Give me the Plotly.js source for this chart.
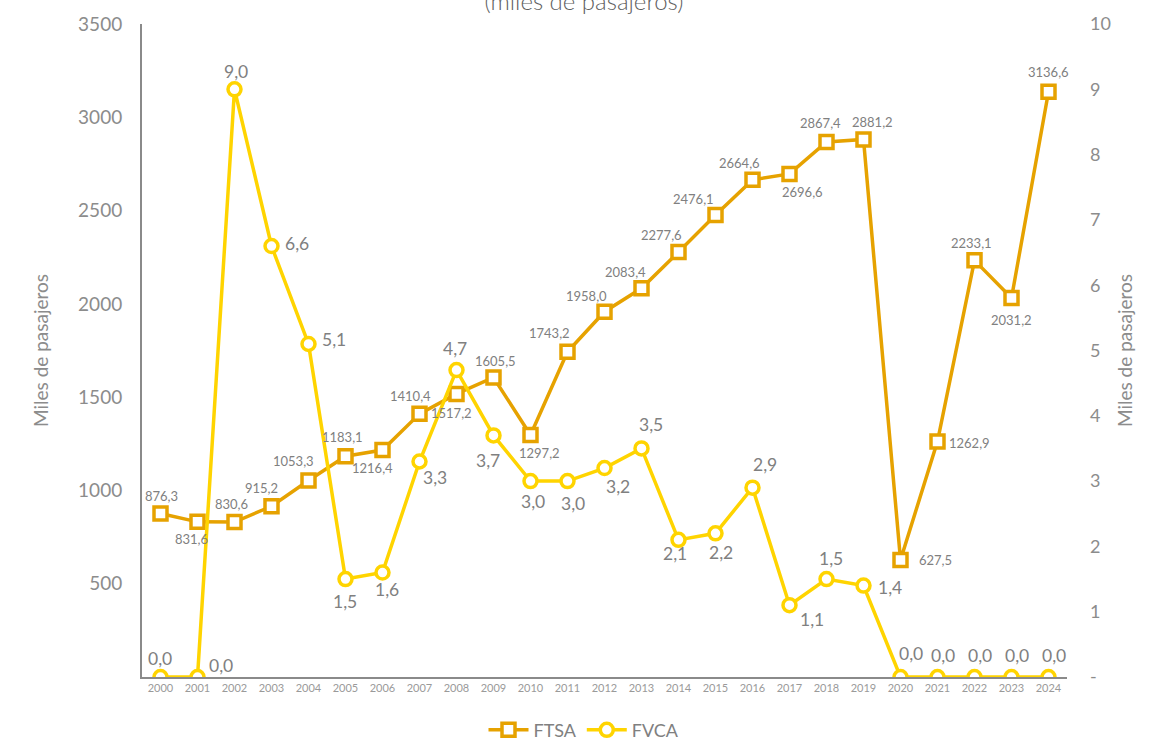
<!DOCTYPE html>
<html>
<head>
<meta charset="utf-8">
<script src="https://cdn.plot.ly/plotly-3.0.1.min.js"></script>
<style>html,body{margin:0;padding:0;background:#fff;}#chart{width:1168px;height:742px;}</style>
</head>
<body>
<div id="chart"></div>
<script>
const years = [2000,2001,2002,2003,2004,2005,2006,2007,2008,2009,2010,2011,2012,2013,2014,2015,2016,2017,2018,2019,2020,2021,2022,2023,2024];
const ftsa = [876.3,831.6,830.6,915.2,1053.3,1183.1,1216.4,1410.4,1517.2,1605.5,1297.2,1743.2,1958.0,2083.4,2277.6,2476.1,2664.6,2696.6,2867.4,2881.2,627.5,1262.9,2233.1,2031.2,3136.6];
const fvca = [0.0,0.0,9.0,6.6,5.1,1.5,1.6,3.3,4.7,3.7,3.0,3.0,3.2,3.5,2.1,2.2,2.9,1.1,1.5,1.4,0.0,0.0,0.0,0.0,0.0];
const leftTicks = [500,1000,1500,2000,2500,3000,3500];
const rightTicks = [0,1,2,3,4,5,6,7,8,9,10];
const rightTickText = ['-','1','2','3','4','5','6','7','8','9','10'];

// label offsets in pixels [dx, dy(up positive)]
const ftsaOff = [[1,18],[-6,-17],[-3,18],[-10,18],[-15,19],[-3,19],[-10,-18],[-9,18],[-5,-19],[2,16],[9,-18],[-18,19],[-18,16],[-16,16],[-17,17],[-22,16],[-13,17],[13,-18],[-6,19],[9,17],[35,0],[32,-2],[-3,17],[0,-22],[0,20]];
const fvcaOff = [[-1,19],[23,12],[1,18],[25,3],[25,4],[-1,-22],[4,-17],[15,-16],[-2,22],[-6,-25],[2,-20],[5,-22],[13,-18],[9,24],[-4,-14],[5,-19],[12,23],[22,-14],[4,21],[26,-2],[10,24],[5,22],[5,22],[5,22],[5,22]];

const C1 = '#E6A200', C2 = '#FFD400';
const fmt = v => v.toFixed(1).replace('.', ',');

const traces = [
  {x: years, y: ftsa, name: 'FTSA', type: 'scatter', mode: 'lines+markers', yaxis: 'y',
   line: {color: C1, width: 3.5},
   marker: {symbol: 'square', size: 13, color: '#ffffff', line: {color: C1, width: 3.5}}},
  {x: years, y: fvca, name: 'FVCA', type: 'scatter', mode: 'lines+markers', yaxis: 'y2',
   line: {color: C2, width: 3.5},
   marker: {symbol: 'circle', size: 13, color: '#ffffff', line: {color: C2, width: 3.5}}}
];

const annotations = [];
years.forEach((yr, i) => {
  annotations.push({x: yr, y: ftsa[i], xref: 'x', yref: 'y', text: fmt(ftsa[i]), showarrow: false,
    xshift: ftsaOff[i][0], yshift: ftsaOff[i][1], font: {family: 'Lato', size: 13, color: '#808080'}});
  annotations.push({x: yr, y: fvca[i], xref: 'x', yref: 'y2', text: fmt(fvca[i]), showarrow: false,
    xshift: fvcaOff[i][0], yshift: fvcaOff[i][1], font: {family: 'Lato', size: 17.5, color: '#808080'}});
});

const layout = {
  width: 1168, height: 742,
  margin: {l: 142, r: 101, t: 24, b: 65, autoexpand: false},
  paper_bgcolor: '#ffffff', plot_bgcolor: '#ffffff',
  font: {family: 'Lato', color: '#8c8c8c'},
  title: {text: '(miles de pasajeros)', x: 0.5, xanchor: 'center', y: 0.998, yref: 'container', yanchor: 'middle',
          font: {family: 'Lato', size: 24, color: '#5f5f5f', weight: 300}},
  showlegend: true,
  legend: {orientation: 'h', x: 0.5, xref: 'container', xanchor: 'center', y: 0.016, yref: 'container', yanchor: 'middle',
           itemwidth: 40, font: {family: 'Lato', size: 18, color: '#808080'}},
  xaxis: {range: [1999.5, 2024.5], tickmode: 'array', tickvals: years, ticktext: years.map(String),
          showgrid: false, zeroline: false, showline: true, linecolor: '#8a8a8a', linewidth: 2, tickangle: 0,
          tickfont: {family: 'Lato', size: 11, color: '#9a9a9a'}, ticks: '', fixedrange: true},
  yaxis: {range: [0, 3500], tickmode: 'array', tickvals: leftTicks, showgrid: false, zeroline: false,
          showline: true, linecolor: '#8a8a8a', linewidth: 2, ticks: '', ticklabelstandoff: 14,
          tickfont: {family: 'Lato', size: 19, color: '#8c8c8c'},
          title: {text: 'Miles de pasajeros', font: {family: 'Lato', size: 19, color: '#8c8c8c'}, standoff: 24}},
  yaxis2: {range: [0, 10], overlaying: 'y', side: 'right', tickmode: 'array', tickvals: rightTicks, ticktext: rightTickText,
           showgrid: false, zeroline: false, showline: false, ticks: '', ticklabelstandoff: 22,
           tickfont: {family: 'Lato', size: 18, color: '#8c8c8c'},
           title: {text: 'Miles de pasajeros', font: {family: 'Lato', size: 19, color: '#8c8c8c'}, standoff: 8}},
  annotations: annotations
};

Plotly.newPlot('chart', traces, layout, {displayModeBar: false, staticPlot: true});
</script>
</body>
</html>
